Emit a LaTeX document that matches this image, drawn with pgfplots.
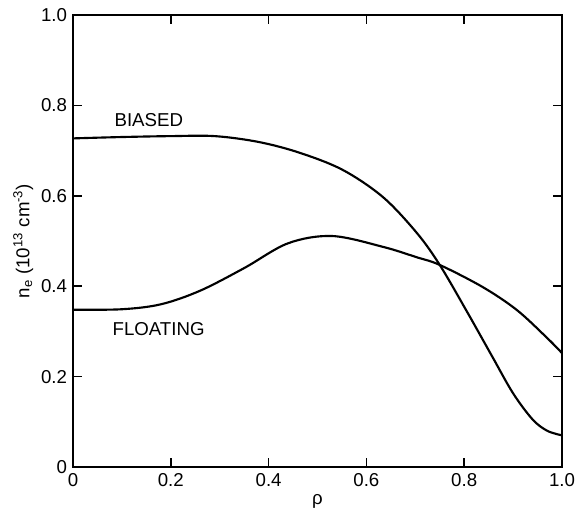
\documentclass[border=0pt]{standalone}
\usepackage{fontspec}
\setmainfont{Liberation Sans}
\usepackage{pgfplots}
\pgfplotsset{compat=1.18}

\begin{document}
\begin{tikzpicture}
\begin{axis}[
    scale only axis,
    width=366.75pt, height=339pt,
    xmin=0, xmax=1, ymin=0, ymax=1,
    axis line style={line width=1.5pt},
    tick style={line width=1.2pt, black},
    major tick length=7pt,
    tick align=inside,
    tick pos=both,
    xtick={0,0.2,0.4,0.6,0.8,1.0},
    ytick={0,0.2,0.4,0.6,0.8,1.0},
    xticklabels={0,0.2,0.4,0.6,0.8,1.0},
    yticklabels={0,0.2,0.4,0.6,0.8,1.0},
    ticklabel style={font=\fontsize{14}{16}\selectfont},
    xticklabel style={yshift=-1pt},
    yticklabel style={xshift=-1pt},
    xlabel={ρ},
    ylabel={n\textsubscript{e} (10\textsuperscript{13} cm\textsuperscript{-3})},
    label style={font=\fontsize{14}{16}\selectfont},
    xlabel style={yshift=1pt},
    ylabel style={yshift=-1pt},
    cycle list={{black}},
    every axis plot/.append style={line width=1.6pt, smooth, tension=0.55, no markers},
]
% BIASED
\addplot coordinates {
    (0,0.727) (0.1,0.730) (0.2,0.732) (0.29,0.732) (0.38,0.719)
    (0.464,0.695) (0.552,0.657) (0.634,0.597) (0.703,0.518) (0.75,0.447)
    (0.805,0.345) (0.857,0.245) (0.9,0.163) (0.94,0.105)
    (0.97,0.080) (1.0,0.070)
};
% FLOATING
\addplot coordinates {
    (0,0.348) (0.1,0.349) (0.18,0.36) (0.26,0.39) (0.35,0.44)
    (0.44,0.495) (0.53,0.511) (0.634,0.487) (0.703,0.464) (0.75,0.447)
    (0.838,0.398) (0.908,0.347) (0.97,0.285) (1.0,0.252)
};
\node[font=\fontsize{14}{16}\selectfont] at (axis cs:0.155,0.768) {BIASED};
\node[font=\fontsize{14}{16}\selectfont] at (axis cs:0.175,0.305) {FLOATING};
\end{axis}
\pgfresetboundingbox
\path ([xshift=-54.75pt, yshift=-36.75pt]current axis.south west)
    rectangle ([xshift=10.5pt, yshift=11.25pt]current axis.north east);
\end{tikzpicture}
\end{document}
